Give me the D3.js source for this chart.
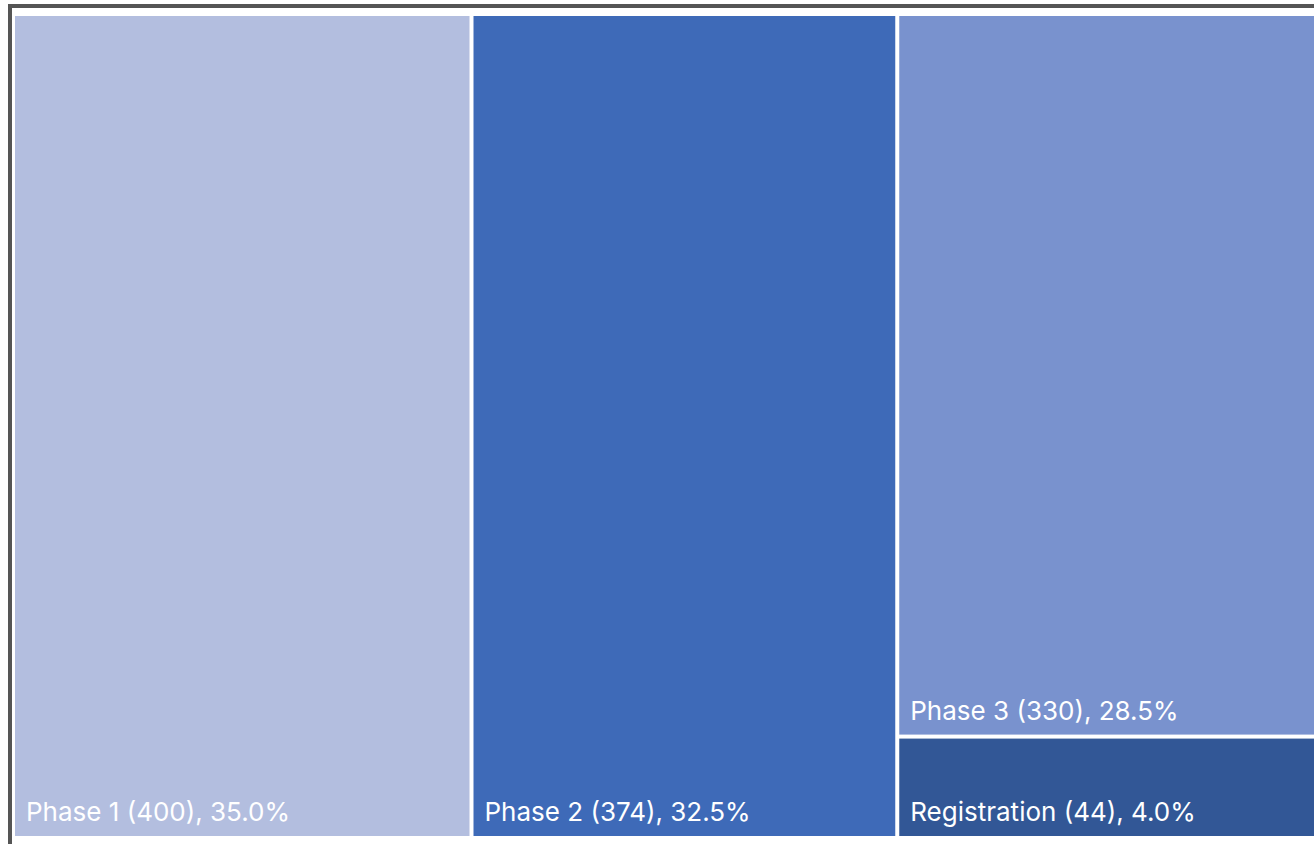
<!DOCTYPE html>
<html>
<head>
<meta charset="utf-8">
<script src="https://cdn.jsdelivr.net/npm/d3@7"></script>
<style>
  html, body { margin: 0; padding: 0; background: #fff; overflow: hidden; }
  svg { display: block; }
</style>
</head>
<body>
<svg id="chart" width="1314" height="844"></svg>
<script>
// Data
const categories = ["Phase 1", "Phase 2", "Phase 3", "Registration"];
const counts = [400, 374, 330, 44];
const shares = [35.0, 32.5, 28.5, 4.0];
const colors = ["#b3bedf", "#3e6ab8", "#7992ce", "#325796"];

const svg = d3.select("#chart");

// outer frame
svg.append("rect")
  .attr("x", 10).attr("y", 6)
  .attr("width", 1322).attr("height", 852)
  .attr("fill", "#fff")
  .attr("stroke", "#555555")
  .attr("stroke-width", 4);

const W = 1306, H = 820;
const rootData = {
  name: "root",
  children: categories.map((c, i) => ({ name: c, count: counts[i], share: shares[i], color: colors[i] }))
};

const root = d3.hierarchy(rootData)
  .sum(d => d.share || 0)
  .sort((a, b) => b.value - a.value);

d3.treemap()
  .tile(d3.treemapSquarify.ratio(1))
  .size([W, H])
  .paddingInner(4)(root);

const g = svg.append("g").attr("transform", "translate(15,16)");

const leaf = g.selectAll("g.leaf")
  .data(root.leaves())
  .join("g")
  .attr("class", "leaf");

leaf.append("rect")
  .attr("x", d => d.x0)
  .attr("y", d => d.y0)
  .attr("width", d => d.x1 - d.x0)
  .attr("height", d => d.y1 - d.y0)
  .attr("fill", d => d.data.color);

leaf.append("text")
  .attr("x", d => d.x0 + 11)
  .attr("y", d => d.y1 - 15)
  .attr("fill", "#ffffff")
  .attr("font-family", "Inter, 'Noto Sans', sans-serif")
  .attr("font-size", 26)
  .text(d => `${d.data.name} (${d.data.count}), ${d.data.share.toFixed(1)}%`);
</script>
</body>
</html>
